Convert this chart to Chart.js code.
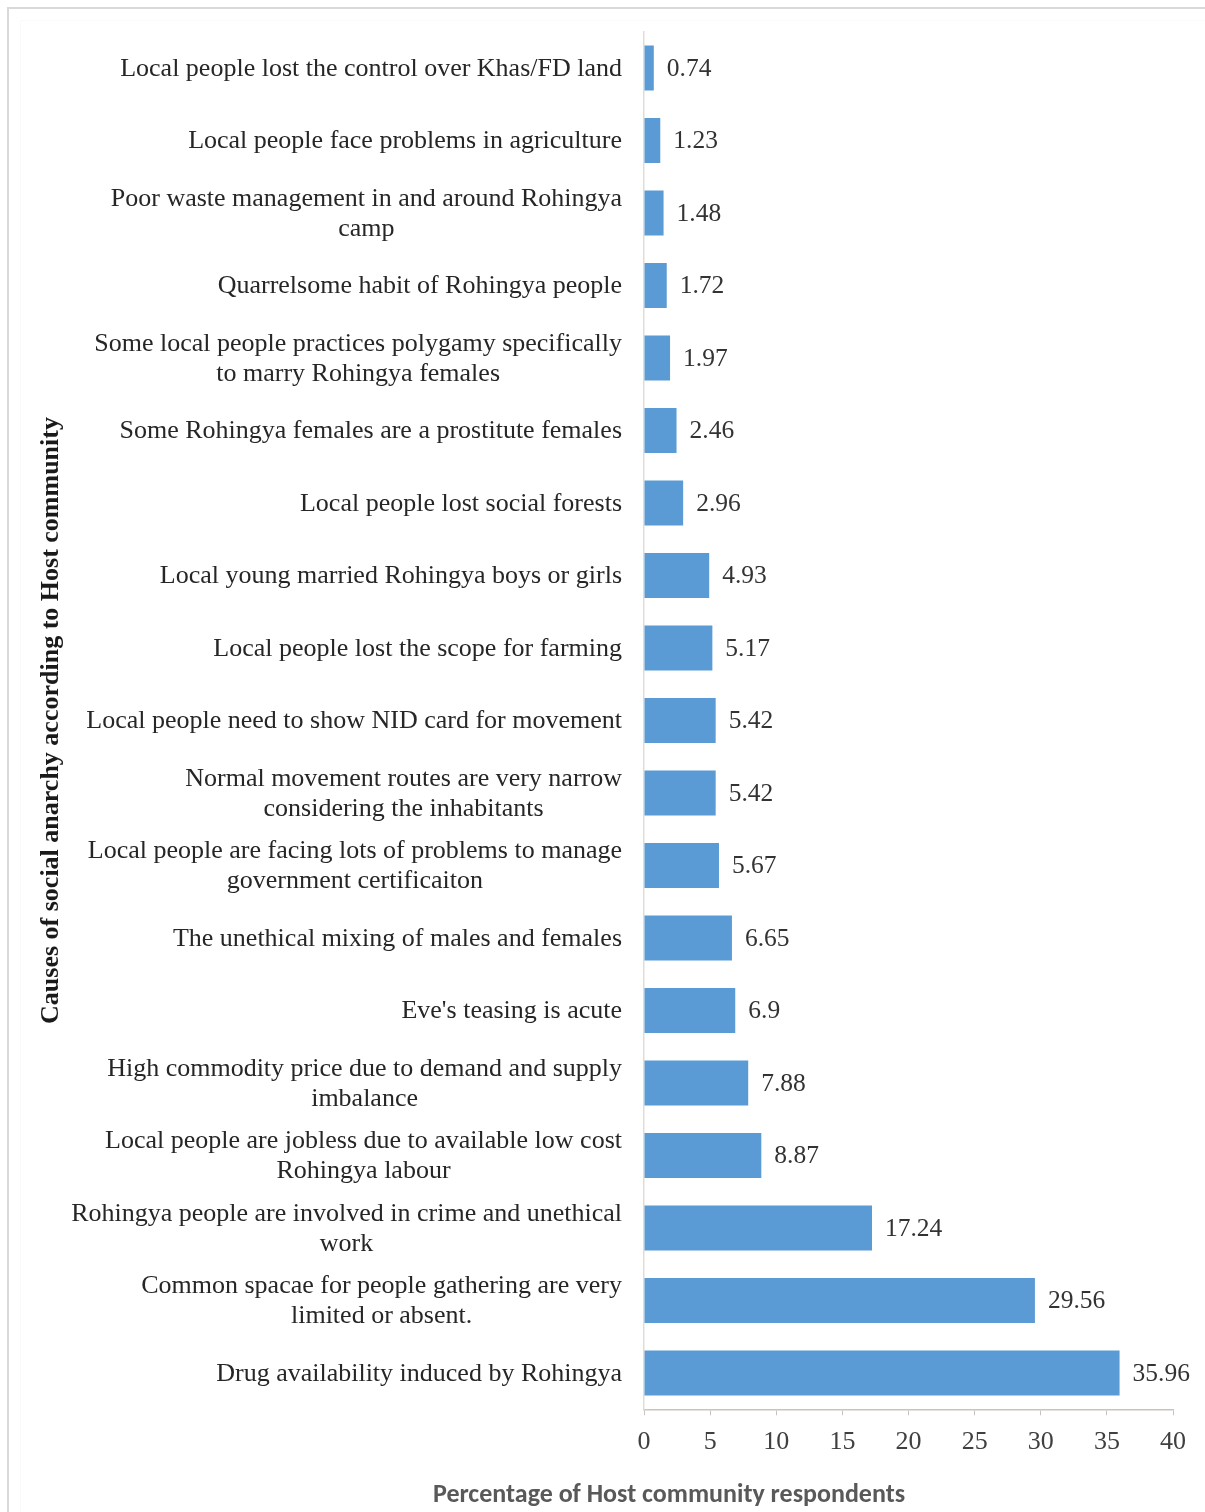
<!DOCTYPE html>
<html>
<head>
<meta charset="utf-8">
<script src="https://cdn.jsdelivr.net/npm/chart.js@4.4.1/dist/chart.umd.min.js"></script>
<style>
  html, body { margin: 0; padding: 0; background: #ffffff; }
  #wrap { position: relative; width: 1205px; height: 1512px; }
  canvas { display: block; }
</style>
</head>
<body>
<div id="wrap"><canvas id="chart" width="1205" height="1512"></canvas></div>
<script>
// Causes of social anarchy reported by host community respondents (%)
const categories = [
  ["Local people lost the control over Khas/FD land"],
  ["Local people face problems in agriculture"],
  ["Poor waste management in and around Rohingya", "camp"],
  ["Quarrelsome habit of Rohingya people"],
  ["Some local people practices polygamy specifically", "to marry Rohingya females"],
  ["Some Rohingya females are a prostitute females"],
  ["Local people lost social forests"],
  ["Local young married Rohingya boys or girls"],
  ["Local people lost the scope for farming"],
  ["Local people need to show NID card for movement"],
  ["Normal movement routes are very narrow", "considering the inhabitants"],
  ["Local people are facing lots of problems to manage", "government certificaiton"],
  ["The unethical mixing of males and females"],
  ["Eve's teasing is acute"],
  ["High commodity price due to demand and supply", "imbalance"],
  ["Local people are jobless due to available low cost", "Rohingya labour"],
  ["Rohingya people are involved in crime and unethical", "work"],
  ["Common spacae for people gathering are very", "limited or absent."],
  ["Drug availability induced by Rohingya"]
];
const percentages = [0.74, 1.23, 1.48, 1.72, 1.97, 2.46, 2.96, 4.93, 5.17, 5.42,
                     5.42, 5.67, 6.65, 6.9, 7.88, 8.87, 17.24, 29.56, 35.96];
const xTicks = [0, 5, 10, 15, 20, 25, 30, 35, 40];

const yTitle = "Causes of social anarchy according to Host community";
const xTitle = "Percentage of Host community respondents";

const SERIF = "'Liberation Serif', 'Times New Roman', serif";
const SANS = "Carlito, Lato, sans-serif";

// White page with a thin grey frame on the top and left
const framePlugin = {
  id: 'frame',
  beforeDraw(chart) {
    const ctx = chart.ctx;
    ctx.save();
    ctx.fillStyle = '#ffffff';
    ctx.fillRect(0, 0, chart.width, chart.height);
    ctx.strokeStyle = '#d9d9d9';
    ctx.lineWidth = 2;
    ctx.beginPath();
    ctx.moveTo(8, chart.height);
    ctx.lineTo(8, 8);
    ctx.lineTo(chart.width, 8);
    ctx.stroke();
    ctx.strokeStyle = '#fafafa';
    ctx.lineWidth = 1;
    ctx.beginPath();
    ctx.moveTo(20.5, chart.height);
    ctx.lineTo(20.5, 20.5);
    ctx.lineTo(chart.width, 20.5);
    ctx.stroke();
    ctx.restore();
  }
};

// Category labels: each label's lines centred on one another, block right-aligned
const categoryLabelPlugin = {
  id: 'categoryLabels',
  afterDraw(chart) {
    const ctx = chart.ctx;
    const yScale = chart.scales.y;
    const right = chart.chartArea.left - 22;
    const lineH = 30;
    ctx.save();
    ctx.font = '26px ' + SERIF;
    ctx.fillStyle = '#262626';
    ctx.textAlign = 'center';
    ctx.textBaseline = 'middle';
    categories.forEach((lines, i) => {
      const y = yScale.getPixelForValue(i) + 1;
      const w = Math.max(...lines.map(l => ctx.measureText(l).width));
      const cx = right - w / 2;
      lines.forEach((line, j) => {
        ctx.fillText(line, cx, y + (j - (lines.length - 1) / 2) * lineH);
      });
    });
    ctx.restore();
  }
};

// Value labels at the end of each bar, plus the horizontal axis title
const valueLabelPlugin = {
  id: 'valueLabels',
  afterDatasetsDraw(chart) {
    const ctx = chart.ctx;
    const meta = chart.getDatasetMeta(0);
    ctx.save();
    ctx.font = '25.5px ' + SERIF;
    ctx.fillStyle = '#333333';
    ctx.textAlign = 'left';
    ctx.textBaseline = 'middle';
    meta.data.forEach((bar, i) => {
      ctx.fillText(String(percentages[i]), bar.x + 13, bar.y + 1);
    });
    ctx.font = 'bold 26px ' + SANS;
    ctx.fillStyle = '#595959';
    ctx.textAlign = 'center';
    ctx.fillText(xTitle, 669, 1495);
    ctx.restore();
  }
};

new Chart(document.getElementById('chart'), {
  type: 'bar',
  data: {
    labels: categories,
    datasets: [{
      data: percentages,
      backgroundColor: '#5b9bd5',
      borderWidth: 0,
      barPercentage: 0.62,
      categoryPercentage: 1.0
    }]
  },
  options: {
    indexAxis: 'y',
    responsive: false,
    animation: false,
    devicePixelRatio: 1,
    layout: { padding: { left: 36, top: 31.75, right: 32, bottom: 0 } },
    plugins: {
      legend: { display: false },
      tooltip: { enabled: false }
    },
    scales: {
      x: {
        min: 0,
        max: 40,
        afterBuildTicks(scale) {
          scale.ticks = xTicks.map(v => ({ value: v }));
        },
        afterFit(scale) { scale.height = 1512 - 1409.25; },
        grid: {
          display: true,
          drawOnChartArea: false,
          drawTicks: true,
          tickLength: 6,
          color: '#c9c3c0'
        },
        border: { display: true, color: '#c9c3c0', width: 1.5 },
        ticks: {
          padding: 11,
          color: '#404040',
          font: { family: SERIF, size: 26 }
        }
      },
      y: {
        afterFit(scale) { scale.width = 644 - 36; },
        grid: { display: true, drawOnChartArea: false, drawTicks: false },
        border: { display: true, color: '#e2dcd6', width: 1.5 },
        ticks: { display: false },
        title: {
          display: true,
          text: yTitle,
          color: '#1a1a1a',
          padding: 0,
          font: { family: SERIF, size: 26, weight: 'bold' }
        }
      }
    }
  },
  plugins: [framePlugin, categoryLabelPlugin, valueLabelPlugin]
});
</script>
</body>
</html>
